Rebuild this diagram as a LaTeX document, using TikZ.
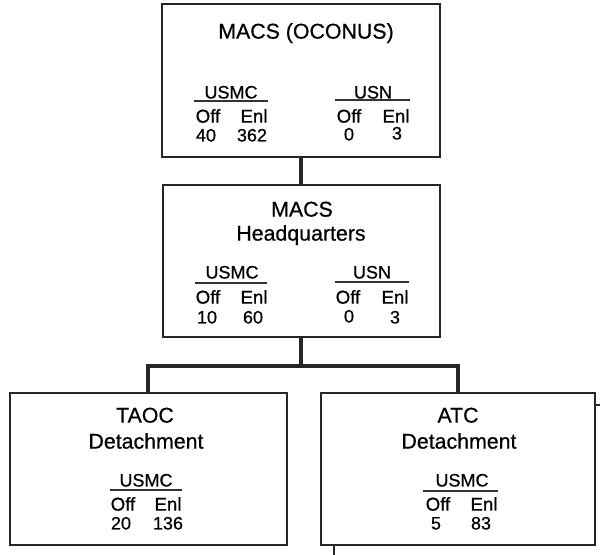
\documentclass[tikz,border=0pt]{standalone}
\usepackage{fontspec}
\setmainfont[FakeBold=0.6]{Liberation Sans}
\begin{document}
\begin{tikzpicture}[x=0.75pt,y=-0.75pt,
  box/.style={draw=black!85, line width=1.5pt, rectangle, inner sep=0pt},
  conn/.style={draw=black!85, line width=3.4pt},
  ttl/.style={inner sep=0pt, font=\fontsize{16}{19}\selectfont, text height=11.4pt, text depth=0pt},
  grp/.style={inner sep=0pt, font=\fontsize{13.5}{16}\selectfont, text height=9.7pt, text depth=0pt},
  col/.style={inner sep=0pt, font=\fontsize{14}{16}\selectfont, text height=10pt, text depth=0pt},
  num/.style={inner sep=0pt, font=\fontsize{13.5}{16}\selectfont, text height=9.7pt, text depth=0pt},
  rulel/.style={draw=black!80, line width=0.9pt},
  thinl/.style={draw=black!85, line width=1.3pt}
]
\useasboundingbox (0,0) rectangle (600,554);

% boxes
\node[box, minimum width=208.5pt, minimum height=114.75pt] (top) at (301,80.5) {};
\node[box, minimum width=207.75pt, minimum height=114pt] (hq) at (301,261) {};
\node[box, minimum width=207.75pt, minimum height=114pt] (taoc) at (148,469) {};
\node[box, minimum width=205.5pt, minimum height=114pt] (atc) at (458,469) {};

% connectors
\draw[conn] (top.south) -- (hq.north);
\draw[conn] (hq.south) -- ++(0,28) coordinate (bar);
\draw[conn] (taoc.north) |- (bar) -| (atc.north);

% stray marks
\coordinate (stubend) at (334,556);
\draw[thinl] (atc.south -| stubend) -- (stubend);
\coordinate (tickend) at (601,405);
\draw[line width=2.2pt, draw=black!85] (atc.east |- tickend) -- (tickend);

% top box text
\node[ttl] (t1) at (306,31) {MACS (OCONUS)};
\node[grp] (t1a) at (231,92) {USMC};
\draw[rulel] (194,101) -- (268,101);
\node[col] (t1b) at (208,116) {Off};
\node[col] (t1c) at (254,116) {Enl};
\node[num] (t1d) at (206,135) {40};
\node[num] (t1e) at (252,135) {362};
\node[grp] (t1f) at (373,92) {USN};
\draw[rulel] (335,100) -- (410,100);
\node[col] (t1g) at (349,116) {Off};
\node[col] (t1h) at (396,116) {Enl};
\node[num] (t1i) at (349,134) {0};
\node[num] (t1j) at (397,133) {3};

% HQ box text
\node[ttl] (h1) at (302,209) {MACS};
\node[ttl] (h2) at (301,233) {Headquarters};
\node[grp] (h3) at (232,272) {USMC};
\draw[rulel] (195,283) -- (267,283);
\node[col] (h4) at (208,297) {Off};
\node[col] (h5) at (254,297) {Enl};
\node[num] (h6) at (207,317) {10};
\node[num] (h7) at (253,317) {60};
\node[grp] (h8) at (372,272) {USN};
\draw[rulel] (335,282) -- (409,282);
\node[col] (h9) at (348,297) {Off};
\node[col] (h10) at (395,297) {Enl};
\node[num] (h11) at (349,316) {0};
\node[num] (h12) at (395,317) {3};

% TAOC text
\node[ttl] (a1) at (145,415) {TAOC};
\node[ttl] (a2) at (146,441) {Detachment};
\node[grp] (a3) at (146,480) {USMC};
\draw[rulel] (110,490) -- (182,490);
\node[col] (a4) at (123,504) {Off};
\node[col] (a5) at (168,504) {Enl};
\node[num] (a6) at (121,523) {20};
\node[num] (a7) at (168,523) {136};

% ATC text
\node[ttl] (b1) at (458,415) {ATC};
\node[ttl] (b2) at (459,441) {Detachment};
\node[grp] (b3) at (462,480) {USMC};
\draw[rulel] (423,491) -- (498,491);
\node[col] (b4) at (438,504) {Off};
\node[col] (b5) at (484,504) {Enl};
\node[num] (b6) at (436,523) {5};
\node[num] (b7) at (481,523) {83};
\end{tikzpicture}
\end{document}
